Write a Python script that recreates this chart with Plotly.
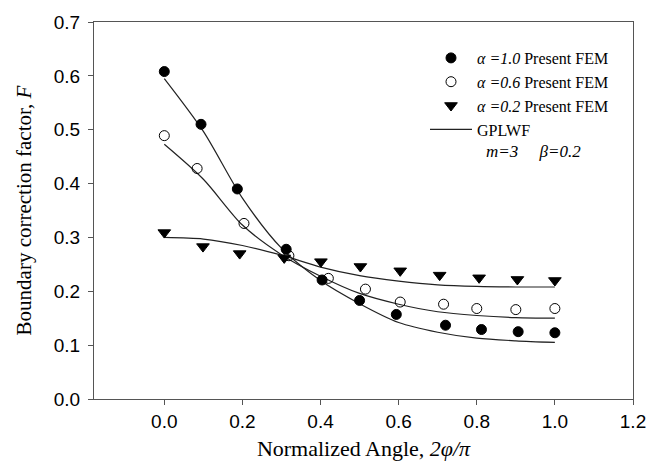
import plotly.graph_objects as go

# FEM data points
x_a10 = [0.0, 0.094, 0.187, 0.312, 0.404, 0.50, 0.594, 0.72, 0.812, 0.906, 1.0]
y_a10 = [0.608, 0.510, 0.390, 0.278, 0.221, 0.183, 0.157, 0.137, 0.129, 0.125, 0.123]

x_a06 = [0.0, 0.084, 0.204, 0.319, 0.42, 0.515, 0.604, 0.715, 0.80, 0.90, 1.0]
y_a06 = [0.489, 0.428, 0.326, 0.266, 0.224, 0.204, 0.180, 0.176, 0.168, 0.166, 0.168]

x_a02 = [0.0, 0.099, 0.193, 0.307, 0.401, 0.502, 0.604, 0.705, 0.806, 0.904, 1.0]
y_a02 = [0.309, 0.283, 0.270, 0.262, 0.255, 0.246, 0.238, 0.230, 0.225, 0.222, 0.220]

# GPLWF curves
x_fit = [0.0, 0.1, 0.2, 0.3, 0.4, 0.5, 0.6, 0.7, 0.8, 0.9, 1.0]
f_a10 = [0.595, 0.497, 0.373, 0.280, 0.220, 0.177, 0.142, 0.124, 0.113, 0.108, 0.105]
f_a06 = [0.473, 0.408, 0.323, 0.268, 0.228, 0.196, 0.176, 0.162, 0.155, 0.151, 0.150]
f_a02 = [0.300, 0.297, 0.285, 0.267, 0.245, 0.229, 0.219, 0.212, 0.209, 0.208, 0.208]

x_ticks = [0.0, 0.2, 0.4, 0.6, 0.8, 1.0, 1.2]
y_ticks = [0.0, 0.1, 0.2, 0.3, 0.4, 0.5, 0.6, 0.7]

serif = "Liberation Serif, Times New Roman, serif"
sans = "Liberation Sans, Arial, sans-serif"
line_col = "#222222"

fig = go.Figure()

for fy in [f_a10, f_a06, f_a02]:
    fig.add_trace(go.Scatter(x=x_fit, y=fy, mode="lines",
                             line=dict(color=line_col, width=1.2, shape="spline", smoothing=0.8),
                             showlegend=False, hoverinfo="skip"))

fig.add_trace(go.Scatter(x=x_a10, y=y_a10, mode="markers", name="<i>α =1.0</i> Present FEM",
                         marker=dict(symbol="circle", size=10, color="black", line=dict(color="black", width=1))))
fig.add_trace(go.Scatter(x=x_a06, y=y_a06, mode="markers", name="<i>α =0.6</i> Present FEM",
                         marker=dict(symbol="circle-open", size=10, color="black", line=dict(color="black", width=1))))
fig.add_trace(go.Scatter(x=x_a02, y=y_a02, mode="markers", name="<i>α =0.2</i> Present FEM",
                         marker=dict(symbol="triangle-down", size=11, color="black", line=dict(color="black", width=1))))
fig.add_trace(go.Scatter(x=[None], y=[None], mode="lines", name="GPLWF",
                         line=dict(color=line_col, width=1.2)))

fig.add_annotation(xref="paper", yref="paper", x=(484 - 94) / 539, y=(399 - 151) / 377,
                   xanchor="left", yanchor="middle", showarrow=False,
                   text="<i>m=3     β=0.2</i>", font=dict(family=serif, size=17, color="black"))

fig.update_layout(
    width=662, height=469,
    margin=dict(l=94, r=29, t=22, b=70),
    paper_bgcolor="white", plot_bgcolor="white",
    showlegend=True,
    legend=dict(x=(425 - 94) / 539, y=(399 - 41) / 377, xanchor="left", yanchor="top",
                bgcolor="rgba(0,0,0,0)", borderwidth=0, traceorder="normal",
                font=dict(family=serif, size=16, color="black"), itemwidth=42),
    xaxis=dict(range=[-0.18, 1.2], tickvals=x_ticks, ticktext=["%.1f" % v for v in x_ticks],
               ticks="outside", ticklen=5, tickcolor="#555", showline=True, linecolor="#555", linewidth=1,
               mirror=True, showgrid=False, zeroline=False, automargin=False,
               tickfont=dict(family=sans, size=19, color="black"),
               title=dict(text="Normalized Angle, <i>2φ/π</i>", font=dict(family=serif, size=22, color="black"), standoff=9)),
    yaxis=dict(range=[0, 0.7], tickvals=y_ticks, ticktext=["%.1f" % v for v in y_ticks],
               ticks="outside", ticklen=5, tickcolor="#555", showline=True, linecolor="#555", linewidth=1,
               mirror=True, showgrid=False, zeroline=False, automargin=False, ticklabelstandoff=4,
               tickfont=dict(family=sans, size=19, color="black"),
               title=dict(text="Boundary correction factor, <i>F</i>", font=dict(family=serif, size=21, color="black"), standoff=16)),
)

fig.write_html("out.html")
